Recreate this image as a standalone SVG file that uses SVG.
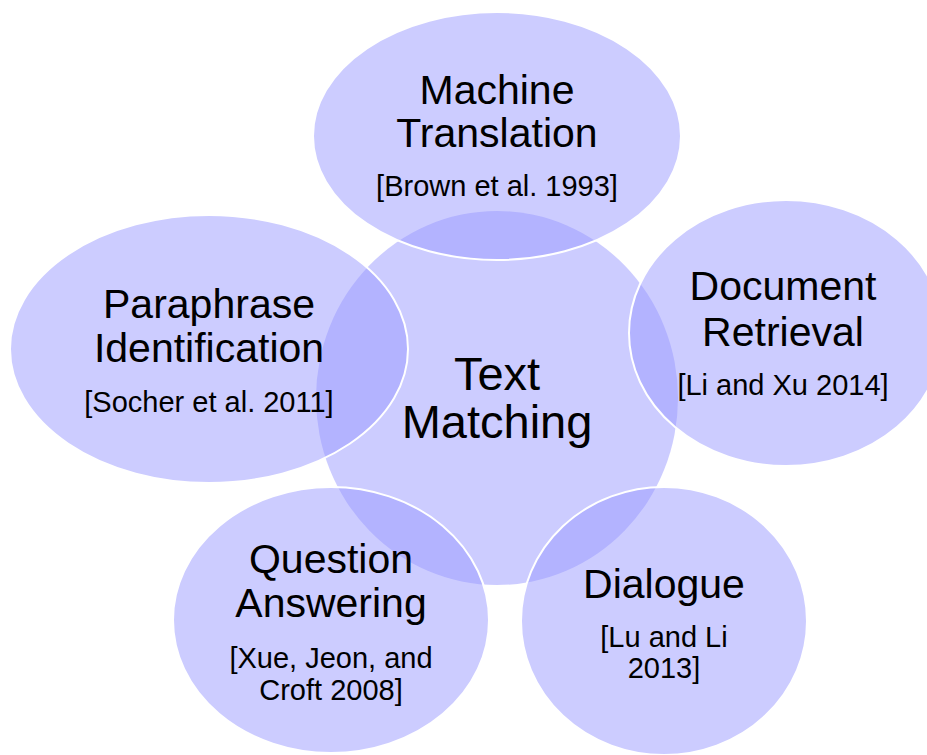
<svg xmlns="http://www.w3.org/2000/svg" width="927" height="755" viewBox="0 0 927 755">
  <style>
    .hub { fill: #9999ff; fill-opacity: 0.5; stroke: none; }
    .topic { fill: #9999ff; fill-opacity: 0.5; stroke: #ffffff; stroke-width: 2; }
    text { font-family: "Liberation Sans", Arial, sans-serif; fill: #000000; text-anchor: middle; }
    .title { font-size: 41px; }
    .hubtitle { font-size: 47px; }
    .ref { font-size: 29px; }
  </style>
  <rect width="927" height="755" fill="#ffffff"/>

  <!-- central topic -->
  <g id="text-matching">
    <ellipse class="hub" cx="497" cy="398" rx="181" ry="187"/>
  </g>

  <!-- surrounding application areas -->
  <g id="machine-translation">
    <ellipse class="topic" cx="497" cy="136" rx="184" ry="124"/>
    <text class="title" x="497" y="104">Machine</text>
    <text class="title" x="497" y="147">Translation</text>
    <text class="ref" x="497" y="196">[Brown et al. 1993]</text>
  </g>

  <g id="paraphrase-identification">
    <ellipse class="topic" cx="209" cy="349" rx="199" ry="134"/>
    <text class="title" x="209" y="318">Paraphrase</text>
    <text class="title" x="209" y="362">Identification</text>
    <text class="ref" x="209" y="412">[Socher et al. 2011]</text>
  </g>

  <g id="document-retrieval">
    <ellipse class="topic" cx="786" cy="333" rx="157" ry="133"/>
    <text class="title" x="783" y="300">Document</text>
    <text class="title" x="783" y="346">Retrieval</text>
    <text class="ref" x="783" y="395">[Li and Xu 2014]</text>
  </g>

  <g id="question-answering">
    <ellipse class="topic" cx="331" cy="620" rx="158" ry="133"/>
    <text class="title" x="331" y="573">Question</text>
    <text class="title" x="331" y="617">Answering</text>
    <text class="ref" x="331" y="668">[Xue, Jeon, and</text>
    <text class="ref" x="331" y="700">Croft 2008]</text>
  </g>

  <g id="dialogue">
    <ellipse class="topic" cx="664" cy="621" rx="143" ry="134"/>
    <text class="title" x="664" y="598">Dialogue</text>
    <text class="ref" x="664" y="647">[Lu and Li</text>
    <text class="ref" x="664" y="678">2013]</text>
  </g>

  <!-- hub label drawn last so it stays on top -->
  <g id="text-matching-label">
    <text class="hubtitle" x="497" y="390">Text</text>
    <text class="hubtitle" x="497" y="438">Matching</text>
  </g>

  <g id="connectors"/>
</svg>
